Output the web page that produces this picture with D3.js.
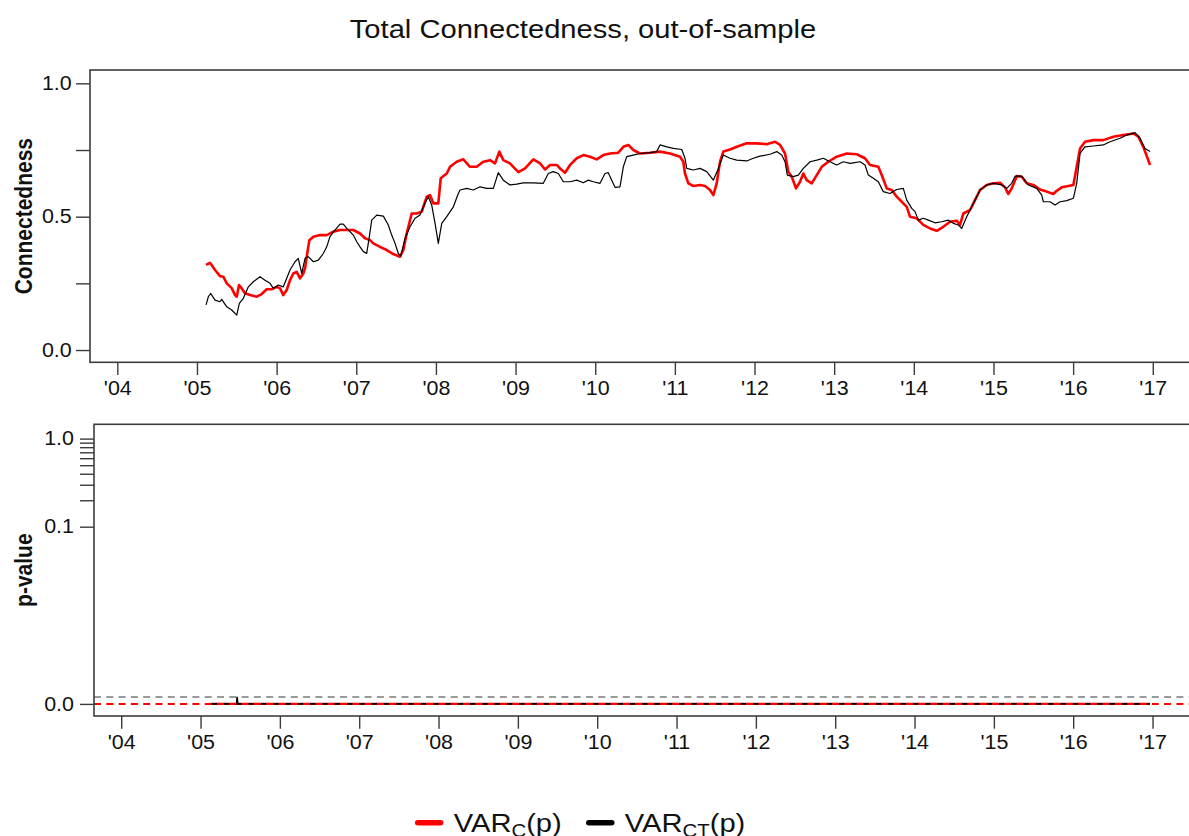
<!DOCTYPE html>
<html>
<head>
<meta charset="utf-8">
<script src="https://cdn.jsdelivr.net/npm/d3@7"></script>
<style>
  html, body { margin: 0; padding: 0; background: #fff; }
  svg { display: block; font-family: "Liberation Sans", Arial, Helvetica, sans-serif; }
</style>
</head>
<body>
<svg id="chart" width="1189" height="836"></svg>
<script>
// ---- data ---------------------------------------------------------------
const yearTicks = [2004, 2005, 2006, 2007, 2008, 2009, 2010, 2011, 2012, 2013, 2014, 2015, 2016, 2017];
const connTicks = [0, 0.25, 0.5, 0.75, 1];
const connTickLabels = ["0.0", "", "0.5", "", "1.0"];
const pMajorTicks = [0, 0.1, 1];
const pMajorLabels = ["0.0", "0.1", "1.0"];
const pMinorTicks = [0.2, 0.3, 0.4, 0.5, 0.6, 0.7, 0.8, 0.9];

// total connectedness, [decimal year, value]
const varC = [
  [2005.114,0.319],[2005.164,0.327],[2005.227,0.300],[2005.289,0.277],[2005.331,0.275],[2005.374,0.250],
  [2005.436,0.232],[2005.478,0.206],[2005.499,0.200],[2005.528,0.244],[2005.562,0.231],[2005.603,0.213],
  [2005.666,0.206],[2005.750,0.200],[2005.813,0.210],[2005.876,0.228],[2005.939,0.228],[2006.001,0.237],
  [2006.043,0.231],[2006.084,0.206],[2006.127,0.225],[2006.168,0.262],[2006.210,0.287],[2006.252,0.293],
  [2006.294,0.269],[2006.335,0.287],[2006.357,0.306],[2006.378,0.350],[2006.411,0.412],[2006.461,0.425],
  [2006.545,0.431],[2006.629,0.431],[2006.712,0.444],[2006.796,0.450],[2006.880,0.450],[2006.963,0.450],
  [2007.047,0.437],[2007.110,0.419],[2007.173,0.412],[2007.214,0.400],[2007.298,0.387],[2007.382,0.375],
  [2007.465,0.360],[2007.549,0.350],[2007.591,0.375],[2007.633,0.437],[2007.696,0.512],[2007.759,0.512],
  [2007.822,0.519],[2007.885,0.575],[2007.926,0.581],[2007.967,0.550],[2008.030,0.550],[2008.060,0.644],
  [2008.136,0.662],[2008.177,0.687],[2008.261,0.706],[2008.344,0.715],[2008.428,0.687],[2008.512,0.687],
  [2008.595,0.706],[2008.679,0.712],[2008.742,0.700],[2008.796,0.744],[2008.846,0.712],[2008.930,0.700],
  [2009.035,0.667],[2009.119,0.681],[2009.223,0.715],[2009.307,0.700],[2009.370,0.677],[2009.433,0.694],
  [2009.517,0.694],[2009.558,0.681],[2009.621,0.665],[2009.684,0.694],[2009.768,0.719],[2009.851,0.731],
  [2009.935,0.725],[2010.019,0.715],[2010.102,0.731],[2010.186,0.737],[2010.290,0.740],[2010.353,0.762],
  [2010.416,0.769],[2010.478,0.750],[2010.562,0.737],[2010.688,0.740],[2010.814,0.744],[2010.939,0.737],
  [2011.065,0.725],[2011.106,0.706],[2011.127,0.662],[2011.169,0.625],[2011.232,0.615],[2011.316,0.619],
  [2011.379,0.615],[2011.441,0.600],[2011.483,0.581],[2011.525,0.625],[2011.567,0.706],[2011.608,0.744],
  [2011.692,0.752],[2011.777,0.762],[2011.902,0.775],[2012.028,0.775],[2012.153,0.772],[2012.257,0.781],
  [2012.320,0.769],[2012.383,0.737],[2012.424,0.669],[2012.467,0.650],[2012.521,0.606],[2012.571,0.631],
  [2012.613,0.662],[2012.655,0.637],[2012.718,0.625],[2012.781,0.656],[2012.844,0.687],[2012.927,0.706],
  [2013.032,0.725],[2013.158,0.737],[2013.283,0.734],[2013.387,0.719],[2013.450,0.694],[2013.554,0.687],
  [2013.597,0.656],[2013.660,0.606],[2013.723,0.600],[2013.785,0.575],[2013.848,0.556],[2013.911,0.537],
  [2013.952,0.500],[2014.036,0.494],[2014.119,0.469],[2014.203,0.456],[2014.288,0.447],[2014.370,0.462],
  [2014.455,0.481],[2014.539,0.485],[2014.580,0.469],[2014.622,0.512],[2014.706,0.525],[2014.768,0.562],
  [2014.831,0.600],[2014.915,0.619],[2014.998,0.625],[2015.082,0.627],[2015.145,0.610],[2015.186,0.585],
  [2015.229,0.606],[2015.292,0.652],[2015.355,0.650],[2015.417,0.625],[2015.500,0.619],[2015.584,0.602],
  [2015.669,0.594],[2015.751,0.585],[2015.794,0.597],[2015.857,0.610],[2015.940,0.615],[2016.003,0.619],
  [2016.045,0.687],[2016.087,0.756],[2016.149,0.781],[2016.254,0.787],[2016.379,0.787],[2016.505,0.800],
  [2016.630,0.806],[2016.756,0.812],[2016.819,0.800],[2016.881,0.762],[2016.966,0.694]
];

const varCT = [
  [2005.114,0.169],[2005.143,0.200],[2005.173,0.212],[2005.227,0.187],[2005.289,0.181],[2005.311,0.190],
  [2005.374,0.162],[2005.436,0.150],[2005.499,0.131],[2005.532,0.175],[2005.582,0.194],[2005.645,0.237],
  [2005.707,0.256],[2005.792,0.275],[2005.854,0.262],[2005.917,0.250],[2005.959,0.231],[2006.021,0.244],
  [2006.084,0.237],[2006.127,0.269],[2006.168,0.300],[2006.231,0.331],[2006.272,0.344],[2006.315,0.287],
  [2006.357,0.344],[2006.398,0.350],[2006.461,0.331],[2006.524,0.337],[2006.586,0.362],[2006.629,0.387],
  [2006.670,0.425],[2006.733,0.450],[2006.796,0.472],[2006.837,0.472],[2006.900,0.450],[2006.963,0.431],
  [2007.006,0.406],[2007.047,0.387],[2007.089,0.369],[2007.131,0.362],[2007.164,0.425],[2007.194,0.487],
  [2007.257,0.506],[2007.340,0.502],[2007.402,0.469],[2007.445,0.431],[2007.487,0.400],[2007.528,0.362],
  [2007.558,0.352],[2007.612,0.419],[2007.675,0.462],[2007.738,0.494],[2007.800,0.506],[2007.863,0.550],
  [2007.905,0.575],[2007.947,0.544],[2007.989,0.475],[2008.030,0.400],[2008.073,0.475],[2008.136,0.500],
  [2008.219,0.537],[2008.281,0.587],[2008.303,0.600],[2008.387,0.606],[2008.470,0.600],[2008.554,0.612],
  [2008.638,0.606],[2008.721,0.606],[2008.783,0.665],[2008.846,0.637],[2008.930,0.619],[2009.014,0.622],
  [2009.097,0.627],[2009.223,0.627],[2009.348,0.625],[2009.411,0.662],[2009.474,0.669],[2009.537,0.662],
  [2009.600,0.631],[2009.684,0.631],[2009.768,0.637],[2009.851,0.627],[2009.913,0.637],[2009.976,0.631],
  [2010.060,0.625],[2010.123,0.662],[2010.164,0.665],[2010.207,0.637],[2010.249,0.610],[2010.311,0.612],
  [2010.353,0.687],[2010.396,0.725],[2010.478,0.731],[2010.562,0.737],[2010.688,0.740],[2010.772,0.744],
  [2010.814,0.769],[2010.898,0.762],[2010.981,0.756],[2011.086,0.752],[2011.127,0.719],[2011.149,0.681],
  [2011.232,0.675],[2011.316,0.681],[2011.400,0.669],[2011.483,0.637],[2011.546,0.681],[2011.608,0.731],
  [2011.692,0.719],[2011.777,0.712],[2011.902,0.709],[2011.985,0.719],[2012.069,0.727],[2012.195,0.734],
  [2012.279,0.744],[2012.341,0.731],[2012.383,0.706],[2012.412,0.656],[2012.487,0.650],[2012.550,0.656],
  [2012.613,0.681],[2012.697,0.706],[2012.781,0.712],[2012.864,0.719],[2012.948,0.706],[2013.032,0.694],
  [2013.115,0.706],[2013.199,0.700],[2013.240,0.702],[2013.325,0.706],[2013.387,0.694],[2013.429,0.656],
  [2013.492,0.644],[2013.554,0.631],[2013.617,0.594],[2013.701,0.587],[2013.785,0.602],[2013.868,0.606],
  [2013.911,0.562],[2013.974,0.531],[2014.015,0.519],[2014.057,0.487],[2014.119,0.494],[2014.182,0.487],
  [2014.266,0.477],[2014.350,0.481],[2014.433,0.487],[2014.496,0.475],[2014.559,0.469],[2014.601,0.456],
  [2014.664,0.500],[2014.727,0.537],[2014.790,0.575],[2014.831,0.600],[2014.915,0.619],[2014.998,0.625],
  [2015.104,0.619],[2015.166,0.606],[2015.229,0.625],[2015.271,0.652],[2015.355,0.652],[2015.438,0.619],
  [2015.543,0.606],[2015.606,0.581],[2015.626,0.556],[2015.710,0.556],[2015.773,0.544],[2015.836,0.556],
  [2015.920,0.560],[2016.003,0.569],[2016.045,0.625],[2016.087,0.737],[2016.149,0.762],[2016.254,0.765],
  [2016.379,0.769],[2016.463,0.781],[2016.589,0.794],[2016.673,0.806],[2016.777,0.815],[2016.840,0.794],
  [2016.902,0.756],[2016.966,0.744]
];

// p-values of the two specifications, [decimal year, p]
const pvalC = [[2005.114,0],[2008.0,0],[2011.0,0],[2014.0,0],[2016.966,0]];
const pvalCT = [[2005.114,0],[2005.455,0],[2005.460,0.0002],[2005.470,0],[2011.0,0],[2016.966,0]];

// horizontal reference levels in the p-value panel
const pRefLevel = 0.0002;
const pZeroLevel = 0;

const seriesNames = ["C", "CT"];
const seriesColors = ["#ff0000", "#000000"];

// ---- layout -------------------------------------------------------------
const SX = 1.1;                 // horizontal glyph stretch
const FONT_TICK = 19.5;
const FONT_TITLE = 26.5;
const FONT_YLAB = 21;
const AXIS_COLOR = "#3c3c3c";

const xDomain = [2003.657, 2017.5];
const panelA = { left: 90, right: 1192.6, top: 70, bottom: 362.3 };
const panelB = { left: 94, right: 1192.2, top: 424.3, bottom: 716 };

const svg = d3.select("#chart");

const xTop = d3.scaleLinear().domain(xDomain).range([panelA.left, panelA.right]);
const yTop = d3.scaleLinear().domain([-0.046, 1.05]).range([panelA.bottom, panelA.top]);

// p-values are drawn on a log axis after a small shift so that 0 is representable
const PSHIFT = 0.001;
const pLimits = [-0.00027, 1.452];
const xBot = d3.scaleLinear().domain(xDomain).range([panelB.left, panelB.right]);
const pLog = d3.scaleLog().domain(pLimits.map(p => p + PSHIFT)).range([panelB.bottom, panelB.top]);
const yBot = p => pLog(p + PSHIFT);

const yearLabel = d => "'" + String(d).slice(2);

// stretch text glyphs horizontally around their anchor point
function widen(sel) {
  sel.each(function () {
    const t = d3.select(this);
    const x = +t.attr("x") || 0;
    const y = +t.attr("y") || 0;
    t.attr("x", null).attr("y", null)
     .attr("transform", `translate(${x},${y}) scale(${SX},1)`);
  });
}

function styleAxis(g) {
  g.select(".domain").remove();
  g.selectAll(".tick line").attr("stroke", AXIS_COLOR).attr("stroke-width", 1.4);
  g.selectAll(".tick text")
    .attr("fill", "#111")
    .style("font-size", FONT_TICK + "px")
    .style("font-family", '"Liberation Sans", Arial, sans-serif');
  widen(g.selectAll(".tick text"));
}

// ---- title --------------------------------------------------------------
svg.append("text")
  .attr("transform", `translate(583,38) scale(${SX},1)`)
  .attr("text-anchor", "middle")
  .style("font-size", FONT_TITLE + "px")
  .attr("fill", "#111")
  .text("Total Connectedness, out-of-sample");

// ---- top panel: connectedness ------------------------------------------
const gTop = svg.append("g");

gTop.append("g")
  .attr("transform", `translate(0,${panelA.bottom})`)
  .call(d3.axisBottom(xTop).tickValues(yearTicks).tickFormat(yearLabel).tickSize(12.7).tickPadding(6.1))
  .call(styleAxis);

gTop.append("g")
  .attr("transform", `translate(${panelA.left},0)`)
  .call(d3.axisLeft(yTop).tickValues(connTicks).tickFormat((d, i) => connTickLabels[i]).tickSize(14).tickPadding(4.3))
  .call(styleAxis);

const lineTop = d3.line().x(d => xTop(d[0])).y(d => yTop(d[1]));

gTop.append("path")
  .datum(varC)
  .attr("d", lineTop)
  .attr("fill", "none")
  .attr("stroke", seriesColors[0])
  .attr("stroke-width", 2.6)
  .attr("stroke-linejoin", "round");

gTop.append("path")
  .datum(varCT)
  .attr("d", lineTop)
  .attr("fill", "none")
  .attr("stroke", seriesColors[1])
  .attr("stroke-width", 1.2)
  .attr("stroke-linejoin", "round");

gTop.append("rect")
  .attr("x", panelA.left).attr("y", panelA.top)
  .attr("width", 1200 - panelA.left).attr("height", panelA.bottom - panelA.top)
  .attr("fill", "none").attr("stroke", AXIS_COLOR).attr("stroke-width", 1.6);

gTop.append("text")
  .attr("transform", `translate(32,${(panelA.top + panelA.bottom) / 2}) scale(${SX},1) rotate(-90)`)
  .attr("text-anchor", "middle")
  .style("font-size", FONT_YLAB + "px")
  .style("font-weight", "bold")
  .attr("fill", "#111")
  .text("Connectedness");

// ---- bottom panel: p-values --------------------------------------------
const gBot = svg.append("g");

gBot.append("g")
  .attr("transform", `translate(0,${panelB.bottom})`)
  .call(d3.axisBottom(xBot).tickValues(yearTicks).tickFormat(yearLabel).tickSize(12.7).tickPadding(6.1))
  .call(styleAxis);

gBot.append("g")
  .attr("transform", `translate(${panelB.left},0)`)
  .call(d3.axisLeft(pLog).tickValues(pMajorTicks.map(p => p + PSHIFT)).tickFormat((d, i) => pMajorLabels[i]).tickSize(14).tickPadding(6))
  .call(styleAxis);

gBot.append("g")
  .attr("transform", `translate(${panelB.left},0)`)
  .call(d3.axisLeft(pLog).tickValues(pMinorTicks.map(p => p + PSHIFT)).tickFormat("").tickSize(14))
  .call(styleAxis);

const lineBot = d3.line().x(d => xBot(d[0])).y(d => yBot(d[1]));

gBot.append("path")
  .datum(pvalC)
  .attr("d", lineBot)
  .attr("fill", "none")
  .attr("stroke", seriesColors[0])
  .attr("stroke-width", 2.4);

gBot.append("path")
  .datum(pvalCT)
  .attr("d", lineBot)
  .attr("fill", "none")
  .attr("stroke", seriesColors[1])
  .attr("stroke-width", 1.6);

gBot.append("line")
  .attr("x1", panelB.left).attr("x2", 1200)
  .attr("y1", yBot(pRefLevel)).attr("y2", yBot(pRefLevel))
  .attr("stroke", "#9a9a9a").attr("stroke-width", 2).attr("stroke-dasharray", "7,5.3");

gBot.append("line")
  .attr("x1", panelB.left).attr("x2", 1200)
  .attr("y1", yBot(pZeroLevel)).attr("y2", yBot(pZeroLevel))
  .attr("stroke", "#ff0000").attr("stroke-width", 2).attr("stroke-dasharray", "7,5.3");

gBot.append("rect")
  .attr("x", panelB.left).attr("y", panelB.top)
  .attr("width", 1200 - panelB.left).attr("height", panelB.bottom - panelB.top)
  .attr("fill", "none").attr("stroke", AXIS_COLOR).attr("stroke-width", 1.6);

gBot.append("text")
  .attr("transform", `translate(32,${(panelB.top + panelB.bottom) / 2}) scale(${SX},1) rotate(-90)`)
  .attr("text-anchor", "middle")
  .style("font-size", FONT_YLAB + "px")
  .style("font-weight", "bold")
  .attr("fill", "#111")
  .text("p-value");

// ---- legend -------------------------------------------------------------
const legend = svg.append("g");
const LEG_Y = 831.7;
const items = seriesNames.map((name, i) => {
  const g = legend.append("g");
  g.append("line")
    .attr("x1", 3).attr("x2", 26)
    .attr("y1", LEG_Y - 9).attr("y2", LEG_Y - 9)
    .attr("stroke", seriesColors[i]).attr("stroke-width", 5.5).attr("stroke-linecap", "round");
  const t = g.append("text")
    .attr("transform", `translate(39,${LEG_Y}) scale(${SX},1)`)
    .style("font-size", FONT_TITLE + "px")
    .attr("fill", "#111");
  t.append("tspan").text("VAR");
  t.append("tspan").attr("dy", 5).style("font-size", (FONT_TITLE * 0.7) + "px").text(name);
  t.append("tspan").attr("dy", -5).text("(p)");
  const w = 39 + t.node().getComputedTextLength() * SX;
  return { g, w };
});
const GAP = 24;
const totalW = d3.sum(items, d => d.w) + GAP * (items.length - 1);
let cx = 580 - totalW / 2;
items.forEach(it => {
  it.g.attr("transform", `translate(${cx},0)`);
  cx += it.w + GAP;
});
</script>
</body>
</html>
